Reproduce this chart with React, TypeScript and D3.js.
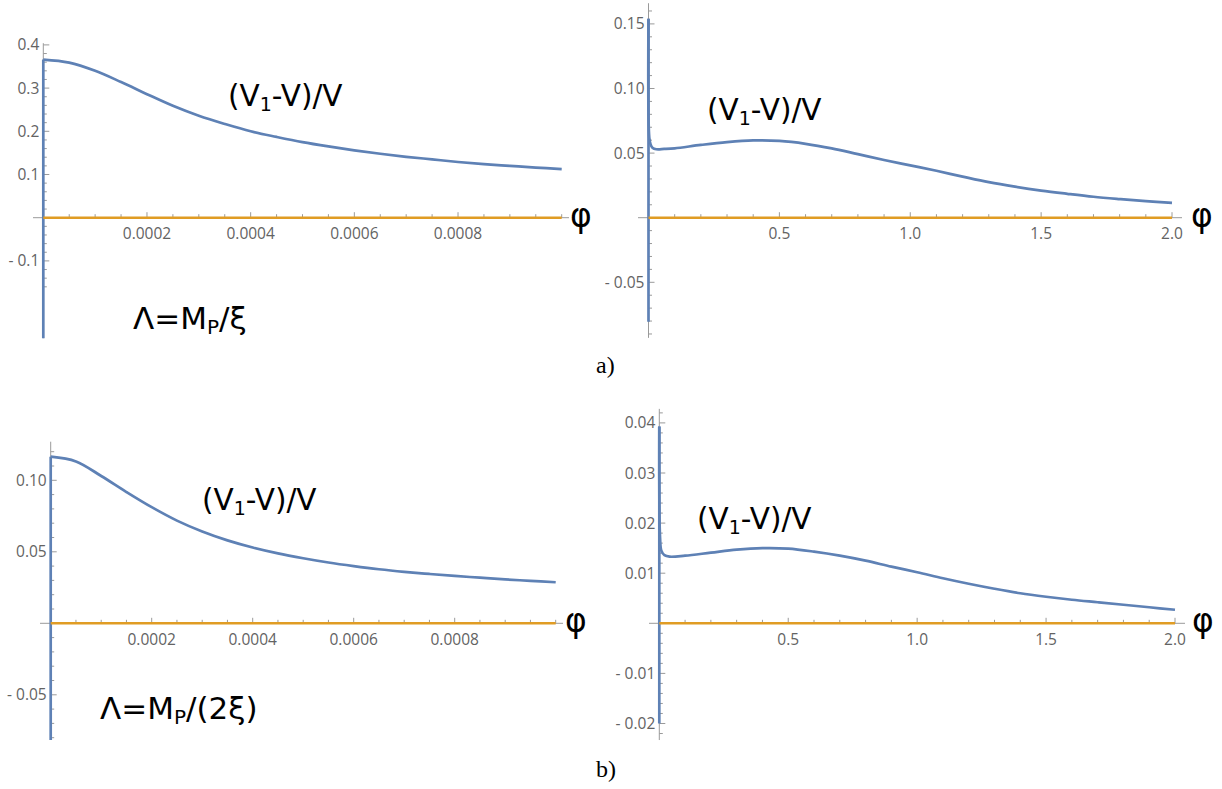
import React from "react";
import * as d3 from "d3";

// ---------- data ----------
// Panel a-left: phi in [0, 0.001]
const phiSmall = [0, 0.00005, 0.0001, 0.00015, 0.0002, 0.00025, 0.0003, 0.00035, 0.0004, 0.00045, 0.0005,
  0.00055, 0.0006, 0.00065, 0.0007, 0.00075, 0.0008, 0.00085, 0.0009, 0.00095, 0.001];
const ratioA1 = [0.366, 0.359, 0.340, 0.314, 0.286, 0.259, 0.236, 0.217, 0.200, 0.187, 0.175,
  0.165, 0.156, 0.148, 0.141, 0.135, 0.129, 0.124, 0.120, 0.116, 0.1125];
const ratioB1 = [0.1165, 0.1132, 0.1030, 0.0918, 0.0812, 0.0718, 0.0642, 0.0580, 0.0530, 0.0489, 0.0455,
  0.0425, 0.0400, 0.0378, 0.0360, 0.0345, 0.0331, 0.0319, 0.0307, 0.0297, 0.0287];

// Panel right: phi in [0, 2]
const phiLargeA = [0, 0.003, 0.008, 0.015, 0.03, 0.06, 0.1, 0.2, 0.3, 0.4, 0.5, 0.6, 0.7, 0.8, 0.9, 1.0,
  1.1, 1.2, 1.3, 1.4, 1.5, 1.6, 1.7, 1.8, 1.9, 2.0];
const ratioA2 = [0.154, 0.062, 0.0567, 0.0542, 0.0530, 0.0532, 0.0537, 0.0563, 0.0585, 0.0598, 0.0594, 0.0572,
  0.0537, 0.0492, 0.0447, 0.0405, 0.0363, 0.0318, 0.0275, 0.0240, 0.0210, 0.0185, 0.0162, 0.0144, 0.0128, 0.0115];
const phiLargeB = [0, 0.003, 0.008, 0.02, 0.04, 0.1, 0.2, 0.3, 0.4, 0.5, 0.6, 0.7, 0.8, 0.9, 1.0,
  1.1, 1.2, 1.3, 1.4, 1.5, 1.6, 1.7, 1.8, 1.9, 2.0];
const ratioB2 = [0.0393, 0.017, 0.0145, 0.0136, 0.0133, 0.0135, 0.0141, 0.0147, 0.0150, 0.0149, 0.0143,
  0.0135, 0.0125, 0.0113, 0.0102, 0.0090, 0.0079, 0.0069, 0.0060, 0.0053, 0.0047, 0.0042, 0.0037, 0.0032, 0.0027];

// lower end of the (near-)vertical branch at phi = 0
const edgeBottom = [-0.279, -0.0805, -0.0816, -0.0200];

// ticks
const xMajorSmall = [0.0002, 0.0004, 0.0006, 0.0008];
const xMajorSmallLabels = ["0.0002", "0.0004", "0.0006", "0.0008"];
const xMajorLarge = [0.5, 1.0, 1.5, 2.0];
const xMajorLargeLabels = ["0.5", "1.0", "1.5", "2.0"];
const yMajorA1 = [-0.1, 0.1, 0.2, 0.3, 0.4];
const yMajorA1Labels = ["- 0.1", "0.1", "0.2", "0.3", "0.4"];
const yMajorA2 = [-0.05, 0.05, 0.10, 0.15];
const yMajorA2Labels = ["- 0.05", "0.05", "0.10", "0.15"];
const yMajorB1 = [-0.05, 0.05, 0.10];
const yMajorB1Labels = ["- 0.05", "0.05", "0.10"];
const yMajorB2 = [-0.02, -0.01, 0.01, 0.02, 0.03, 0.04];
const yMajorB2Labels = ["- 0.02", "- 0.01", "0.01", "0.02", "0.03", "0.04"];

const BLUE = "#5E81B5";
const ORANGE = "#E09C24";
const AXIS = "#9a9a9a";
const TICKTXT = "#636363";

type PanelCfg = {
  phi: number[]; vals: number[]; bottom: number;
  xMax: number; xPx: [number, number];
  yRef: number; yPx: [number, number];
  yAxis: [number, number]; xAxisPx: [number, number];
  xMajor: number[]; xLabels: string[]; xMinorStep: number;
  yMajor: number[]; yLabels: string[]; yMinorStep: number; yMinorRange: [number, number];
  phiLabelX: number;
};

const panels: PanelCfg[] = [
  {
    phi: phiSmall, vals: ratioA1, bottom: edgeBottom[0], xMax: 0.001, xPx: [43.3, 561.7],
    yRef: 0.4, yPx: [217.7, 44.9], yAxis: [-0.279, 0.404], xAxisPx: [33, 569],
    xMajor: xMajorSmall, xLabels: xMajorSmallLabels, xMinorStep: 0.00005,
    yMajor: yMajorA1, yLabels: yMajorA1Labels, yMinorStep: 0.02, yMinorRange: [-0.16, 0.4],
    phiLabelX: 570,
  },
  {
    phi: phiLargeA, vals: ratioA2, bottom: edgeBottom[1], xMax: 2, xPx: [648.5, 1172],
    yRef: 0.15, yPx: [217.7, 23.9], yAxis: [-0.093, 0.166], xAxisPx: [638, 1182],
    xMajor: xMajorLarge, xLabels: xMajorLargeLabels, xMinorStep: 0.1,
    yMajor: yMajorA2, yLabels: yMajorA2Labels, yMinorStep: 0.01, yMinorRange: [-0.09, 0.16],
    phiLabelX: 1191,
  },
  {
    phi: phiSmall, vals: ratioB1, bottom: edgeBottom[2], xMax: 0.001, xPx: [50.7, 555.7],
    yRef: 0.1, yPx: [623.3, 480.3], yAxis: [-0.0816, 0.127], xAxisPx: [40, 563],
    xMajor: xMajorSmall, xLabels: xMajorSmallLabels, xMinorStep: 0.00005,
    yMajor: yMajorB1, yLabels: yMajorB1Labels, yMinorStep: 0.01, yMinorRange: [-0.08, 0.12],
    phiLabelX: 565,
  },
  {
    phi: phiLargeB, vals: ratioB2, bottom: edgeBottom[3], xMax: 2, xPx: [659.3, 1175],
    yRef: 0.04, yPx: [623.3, 422.9], yAxis: [-0.0233, 0.0428], xAxisPx: [649, 1185],
    xMajor: xMajorLarge, xLabels: xMajorLargeLabels, xMinorStep: 0.1,
    yMajor: yMajorB2, yLabels: yMajorB2Labels, yMinorStep: 0.002, yMinorRange: [-0.022, 0.042],
    phiLabelX: 1192,
  },
];

function Panel({ c }: { c: PanelCfg }) {
  const x = d3.scaleLinear().domain([0, c.xMax]).range(c.xPx);
  const y = d3.scaleLinear().domain([0, c.yRef]).range(c.yPx);
  const pts: [number, number][] = c.phi.map((p, i) => [p, c.vals[i]]);
  const line = d3.line<[number, number]>().x(d => x(d[0])).y(d => y(d[1])).curve(d3.curveCatmullRom.alpha(0.5));
  const edge = d3.line<[number, number]>().x(d => x(d[0])).y(d => y(d[1]));
  const x0 = x(0), y0 = y(0);
  const nX = Math.round(c.xMax / c.xMinorStep);
  const xMinor = d3.range(1, nX + 1).map(i => i * c.xMinorStep)
    .filter(v => !c.xMajor.some(m => Math.abs(m - v) < c.xMinorStep / 10));
  const nYlo = Math.round(c.yMinorRange[0] / c.yMinorStep);
  const nYhi = Math.round(c.yMinorRange[1] / c.yMinorStep);
  const yMinor = d3.range(nYlo, nYhi + 1).map(i => i * c.yMinorStep)
    .filter(v => Math.abs(v) > c.yMinorStep / 10 && !c.yMajor.some(m => Math.abs(m - v) < c.yMinorStep / 10));
  return (
    <g>
      {/* axes */}
      <line x1={c.xAxisPx[0]} x2={c.xAxisPx[1]} y1={y0} y2={y0} stroke={AXIS} strokeWidth={1} />
      <line x1={x0} x2={x0} y1={y(c.yAxis[0])} y2={y(c.yAxis[1])} stroke={AXIS} strokeWidth={1} />
      {xMinor.map((v, i) => (
        <line key={"xm" + i} x1={x(v)} x2={x(v)} y1={y0} y2={y0 - 3.5} stroke={AXIS} strokeWidth={1} />
      ))}
      {c.xMajor.map((v, i) => (
        <g key={"xM" + i}>
          <line x1={x(v)} x2={x(v)} y1={y0} y2={y0 - 5.5} stroke={AXIS} strokeWidth={1} />
          <text x={x(v)} y={y0 + 21.5} textAnchor="middle" fontFamily="'Open Sans', sans-serif"
            fontSize={15.5} fill={TICKTXT}>{c.xLabels[i]}</text>
        </g>
      ))}
      {yMinor.map((v, i) => (
        <line key={"ym" + i} x1={x0} x2={x0 + 3.5} y1={y(v)} y2={y(v)} stroke={AXIS} strokeWidth={1} />
      ))}
      {c.yMajor.map((v, i) => (
        <g key={"yM" + i}>
          <line x1={x0} x2={x0 + 6} y1={y(v)} y2={y(v)} stroke={AXIS} strokeWidth={1} />
          <text x={x0 - 4} y={y(v) + 5.5} textAnchor="end" fontFamily="'Open Sans', sans-serif"
            fontSize={15.5} fill={TICKTXT}>{c.yLabels[i]}</text>
        </g>
      ))}
      {/* curves */}
      <path d={edge([[0, c.bottom], [0, c.vals[0]]]) || ""} fill="none" stroke={BLUE} strokeWidth={2.7} />
      <path d={line(pts) || ""} fill="none" stroke={BLUE} strokeWidth={2.7} strokeLinejoin="round" />
      <path d={edge([[0, 0], [c.xMax, 0]]) || ""} fill="none" stroke={ORANGE} strokeWidth={2.4} />
      <text x={c.phiLabelX} y={y0 + 9} fontFamily="'DejaVu Sans', sans-serif" fontSize={33} fill="#000">φ</text>
    </g>
  );
}

function Ratio({ x, y }: { x: number; y: number }) {
  return (
    <text x={x} y={y} fontFamily="'DejaVu Sans', sans-serif" fontSize={29.5} fill="#000">
      (V<tspan fontSize={19} dy={5}>1</tspan><tspan dy={-5}>-V)/V</tspan>
    </text>
  );
}

export default function App() {
  return (
    <svg width={1222} height={789} style={{ position: "absolute", left: 0, top: 0, background: "#fff" }}>
      <rect width={1222} height={789} fill="#fff" />
      {panels.map((c, i) => <Panel key={i} c={c} />)}
      <Ratio x={228} y={106} />
      <Ratio x={707} y={120} />
      <Ratio x={202} y={510} />
      <Ratio x={697} y={529} />
      <text x={133} y={329} fontFamily="'DejaVu Sans', sans-serif" fontSize={31} fill="#000">
        Λ=M<tspan fontSize={20} dy={5}>P</tspan><tspan dy={-5}>/ξ</tspan>
      </text>
      <text x={100} y={719} fontFamily="'DejaVu Sans', sans-serif" fontSize={31} fill="#000">
        Λ=M<tspan fontSize={20} dy={5}>P</tspan><tspan dy={-5}>/(2ξ)</tspan>
      </text>
      <text x={596} y={373} fontFamily="'Liberation Serif', serif" fontSize={24} fill="#000">a)</text>
      <text x={596} y={777} fontFamily="'Liberation Serif', serif" fontSize={24} fill="#000">b)</text>
    </svg>
  );
}
